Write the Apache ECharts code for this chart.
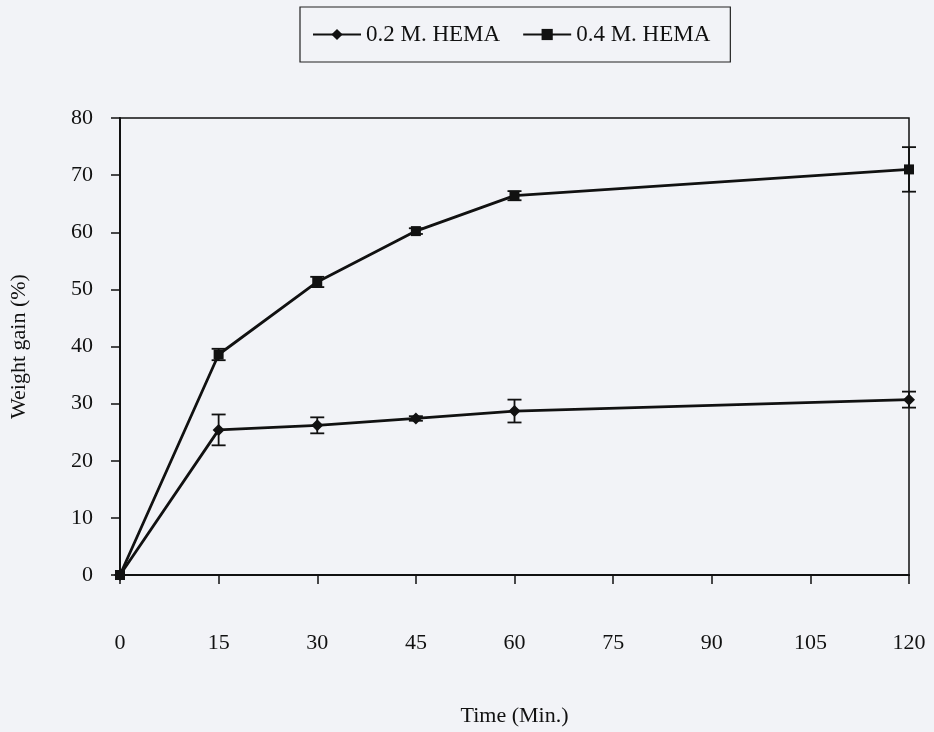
<!DOCTYPE html>
<html>
<head>
<meta charset="utf-8">
<script src="https://cdn.jsdelivr.net/npm/echarts@6/dist/echarts.min.js"></script>
<style>
html,body{margin:0;padding:0;background:#f2f3f7;}
#chart{width:934px;height:732px;}
</style>
</head>
<body>
<div id="chart"></div>
<script>
// Data
var times = [0, 15, 30, 45, 60, 120];
var hema02 = [0, 25.4, 26.2, 27.4, 28.7, 30.7];
var hema02Err = [0, 2.7, 1.4, 0.4, 2.0, 1.4];
var hema04 = [0, 38.6, 51.3, 60.2, 66.4, 71.0];
var hema04Err = [0, 1.0, 0.9, 0.5, 0.8, 3.9];
var xTicks = [0, 15, 30, 45, 60, 75, 90, 105, 120];
var yTicks = [0, 10, 20, 30, 40, 50, 60, 70, 80];
var seriesNames = ['0.2 M. HEMA', '0.4 M. HEMA'];

function pairs(vals) { return times.map(function (t, i) { return [t, vals[i]]; }); }
function errs(vals, e) {
  var out = [];
  times.forEach(function (t, i) { if (e[i] > 0) out.push([t, vals[i] - e[i], vals[i] + e[i]]); });
  return out;
}
function errRender(params, api) {
  var x = api.value(0);
  var lo = api.coord([x, api.value(1)]);
  var hi = api.coord([x, api.value(2)]);
  var cap = 7;
  var st = { stroke: '#111', lineWidth: 1.8 };
  return {
    type: 'group',
    children: [
      { type: 'line', shape: { x1: lo[0], y1: lo[1], x2: hi[0], y2: hi[1] }, style: st },
      { type: 'line', shape: { x1: lo[0] - cap, y1: lo[1], x2: lo[0] + cap, y2: lo[1] }, style: st },
      { type: 'line', shape: { x1: hi[0] - cap, y1: hi[1], x2: hi[0] + cap, y2: hi[1] }, style: st }
    ]
  };
}

var font = 'Liberation Serif, Times New Roman, serif';
var chart = echarts.init(document.getElementById('chart'));
chart.setOption({
  backgroundColor: '#f2f3f7',
  animation: false,
  legend: {
    data: seriesNames,
    top: 7,
    left: 300,
    padding: [16, 20, 16, 12],
    borderColor: '#222',
    borderWidth: 1.2,
    itemWidth: 48,
    itemHeight: 14,
    itemGap: 22,
    textStyle: { fontFamily: font, fontSize: 23, color: '#111' }
  },
  grid: {
    left: 120, right: 25, top: 118, bottom: 155,
    show: true, borderColor: '#111', borderWidth: 1.5, backgroundColor: 'transparent'
  },
  xAxis: {
    type: 'value', min: 0, max: 120, interval: 15,
    name: 'Time (Min.)', nameLocation: 'middle', nameGap: 130,
    nameTextStyle: { fontFamily: font, fontSize: 22, color: '#111' },
    axisLine: { show: true, lineStyle: { color: '#111', width: 2 } },
    axisTick: { show: true, length: 9, lineStyle: { color: '#111', width: 1.5 } },
    axisLabel: {
      margin: 57, fontFamily: font, fontSize: 22, color: '#111',
      formatter: function (v) { return xTicks.indexOf(v) >= 0 ? String(v) : ''; }
    },
    splitLine: { show: false }
  },
  yAxis: {
    type: 'value', min: 0, max: 80, interval: 10,
    name: 'Weight gain (%)', nameLocation: 'middle', nameGap: 90,
    nameTextStyle: { fontFamily: font, fontSize: 22, color: '#111' },
    axisLine: { show: true, lineStyle: { color: '#111', width: 2 } },
    axisTick: { show: true, length: 9, lineStyle: { color: '#111', width: 1.5 } },
    axisLabel: {
      margin: 27, fontFamily: font, fontSize: 22, color: '#111',
      formatter: function (v) { return yTicks.indexOf(v) >= 0 ? String(v) : ''; }
    },
    splitLine: { show: false }
  },
  series: [
    {
      name: seriesNames[0], type: 'line', data: pairs(hema02),
      symbol: 'diamond', symbolSize: 12,
      lineStyle: { color: '#111', width: 2.8 },
      itemStyle: { color: '#111' }, z: 3
    },
    {
      name: seriesNames[1], type: 'line', data: pairs(hema04),
      symbol: 'rect', symbolSize: 10,
      lineStyle: { color: '#111', width: 2.8 },
      itemStyle: { color: '#111' }, z: 3
    },
    { type: 'custom', data: errs(hema02, hema02Err), renderItem: errRender, z: 2, silent: true },
    { type: 'custom', data: errs(hema04, hema04Err), renderItem: errRender, z: 2, silent: true }
  ]
});
</script>
</body>
</html>
